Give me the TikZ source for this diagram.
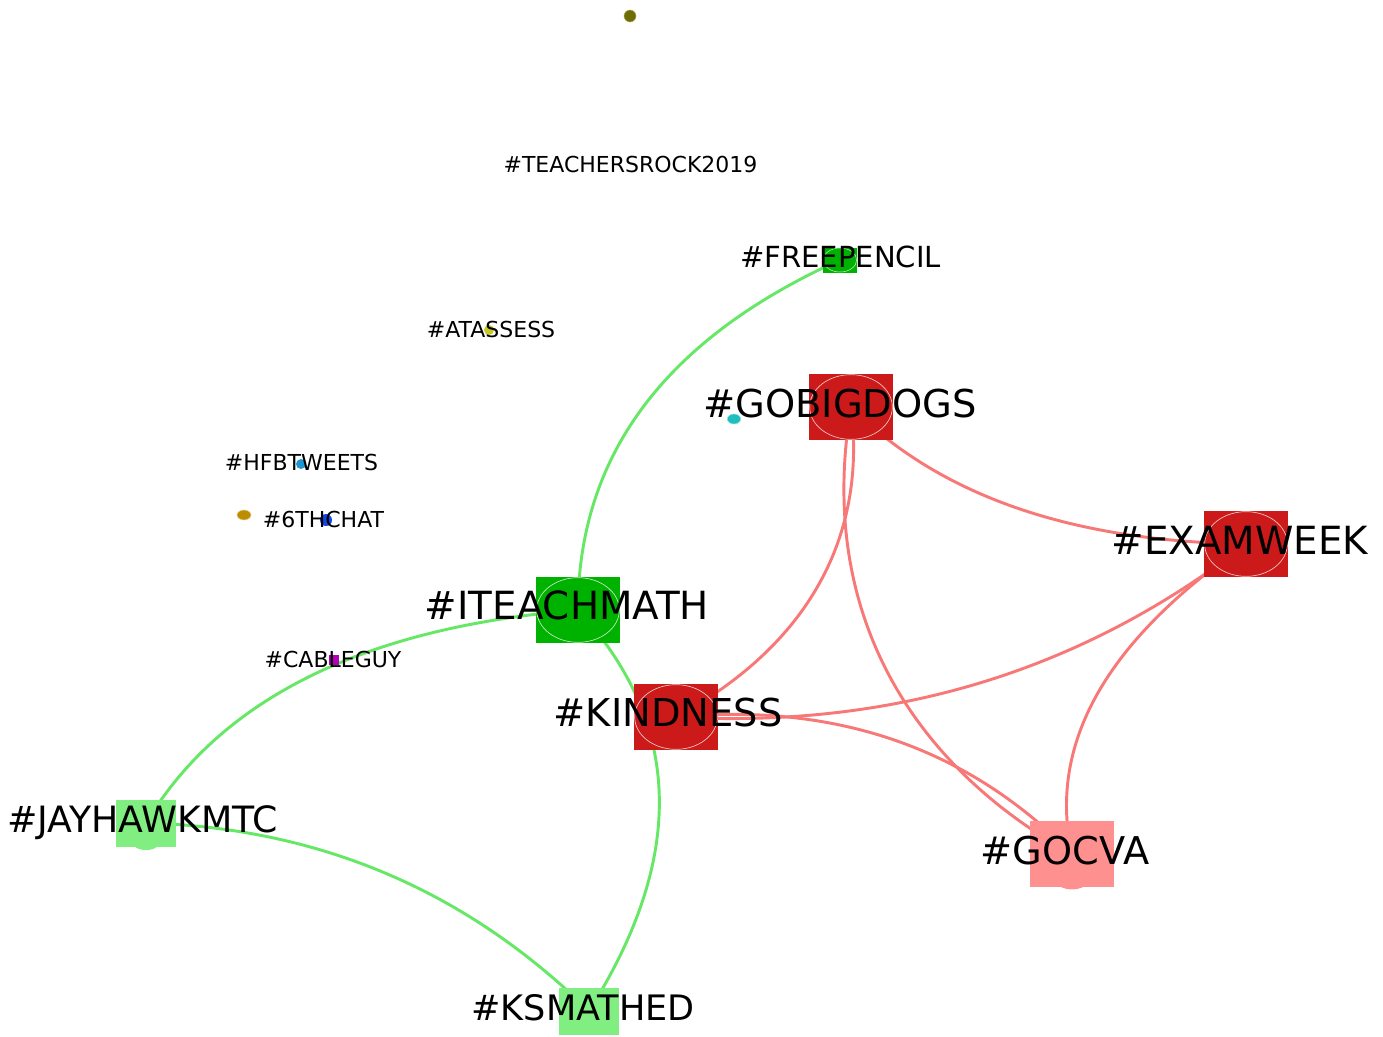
\documentclass[tikz,border=0pt]{standalone}
\usepackage{fontspec}
\setmainfont{DejaVu Sans}
\usetikzlibrary{shapes.geometric,backgrounds,calc}
\definecolor{dgreen}{RGB}{0,178,0}
\definecolor{lgreen}{RGB}{128,238,128}
\definecolor{dred}{RGB}{204,26,26}
\definecolor{pink}{RGB}{255,144,144}
\definecolor{gedgec}{RGB}{102,232,102}
\definecolor{redgec}{RGB}{248,120,120}
\definecolor{olivec}{RGB}{110,110,0}
\definecolor{yellc}{RGB}{200,200,40}
\definecolor{cyanc}{RGB}{32,190,190}
\definecolor{hfbc}{RGB}{30,150,210}
\definecolor{goldc}{RGB}{190,140,0}
\definecolor{bluec}{RGB}{20,70,230}
\definecolor{magc}{RGB}{180,0,180}
\begin{document}
\begin{tikzpicture}[x=0.75pt,y=-0.75pt,
  bigsq/.style={rectangle,inner sep=0,minimum width=63pt,minimum height=49.5pt,fill=#1},
  midsq/.style={rectangle,inner sep=0,minimum width=45pt,minimum height=35.25pt,fill=#1},
  smsq/.style={rectangle,inner sep=0,minimum width=25.5pt,minimum height=18.75pt,fill=#1},
  oval/.style={ellipse,inner sep=0,minimum width=62pt,minimum height=48.5pt,draw=white!75!#1,line width=0.5pt},
  smoval/.style={ellipse,inner sep=0,minimum width=25pt,minimum height=18pt,draw=white!75!#1,line width=0.4pt},
  dot/.style={circle,inner sep=0,minimum size=#1},
  lab/.style={inner sep=0,anchor=base,text=black},
  labS/.style={lab,font=\fontsize{16.5}{18}\selectfont},
  labF/.style={lab,font=\fontsize{21.8}{24}\selectfont},
  labM/.style={lab,font=\fontsize{#1}{28}\selectfont},
  labL/.style={lab,font=\fontsize{#1}{30}\selectfont},
  gedge/.style={draw=gedgec,line width=2.2pt},
  redge/.style={draw=redgec,line width=2.2pt}]
\useasboundingbox (0,0) rectangle (1383,1036);

% node shapes
\node[dot=9pt,fill=olivec,draw=olivec!60!white,line width=0.4pt] (top) at (630,16) {};
\node[dot=7.5pt,fill=yellc] (ata) at (489,330) {};
\node[ellipse,inner sep=0,minimum width=10pt,minimum height=7.5pt,fill=cyanc,draw=cyanc!50!white,line width=0.4pt] (cyan) at (734,419) {};
\node[dot=7.5pt,fill=hfbc] (hfb) at (301,464) {};
\node[ellipse,inner sep=0,minimum width=10.5pt,minimum height=7.5pt,fill=goldc,draw=goldc!40!white,line width=0.4pt] (gold) at (244,515) {};
\node[dot=9pt,fill=bluec] (six) at (326,520) {};
\node[rectangle,inner sep=0,minimum size=7.5pt,fill=magc] (cab) at (334,660) {};

\node[smsq=dgreen] (free) at (840,260) {};
\node[smoval=dgreen] (freeE) at (free) {};
\node[bigsq=dred] (gob) at (851,407) {};
\node[oval=dred] (gobE) at (gob) {};
\node[bigsq=dgreen] (itm) at (578,610) {};
\node[oval=dgreen] (itmE) at (itm) {};
\node[bigsq=dred] (kin) at (676,717) {};
\node[oval=dred] (kinE) at (kin) {};
\node[bigsq=dred] (exw) at (1246,544) {};
\node[oval=dred] (exwE) at (exw) {};
\node[ellipse,inner sep=0,minimum width=20pt,minimum height=8pt,fill=pink] (gocB) at (1072,884) {};
\node[bigsq=pink] (goc) at (1072,854) {};
\node[ellipse,inner sep=0,minimum width=16pt,minimum height=6pt,fill=lgreen] (jayB) at (146,846) {};
\node[midsq=lgreen] (jay) at (146,823) {};
\node[midsq=lgreen] (ksm) at (589,1011) {};

% control points (quadratic curves)
\coordinate (q1) at (578,378);
\coordinate (q2) at (258,636);
\coordinate (q3) at (735,780);
\coordinate (q4) at (405,830);
\coordinate (q5) at (984,540);
\coordinate (q8) at (1000,735);
\coordinate (q9) at (1035,690);
\coordinate (q10) at (916,695);

\begin{pgfonlayer}{background}
\draw[gedge] (free.center) .. controls ($(free.center)!0.6667!(q1)$) and ($(itm.center)!0.6667!(q1)$) .. (itm.center);
\draw[gedge] (itm.center) .. controls ($(itm.center)!0.6667!(q2)$) and ($(jay.center)!0.6667!(q2)$) .. (jay.center);
\draw[gedge] (itm.center) .. controls ($(itm.center)!0.6667!(q3)$) and ($(ksm.center)!0.6667!(q3)$) .. (ksm.center);
\draw[gedge] (jay.center) .. controls ($(jay.center)!0.6667!(q4)$) and ($(ksm.center)!0.6667!(q4)$) .. (ksm.center);
\draw[redge] (gob.center) .. controls ($(gob.center)!0.6667!(q5)$) and ($(exw.center)!0.6667!(q5)$) .. (exw.center);
\draw[redge] (gob.center) .. controls (868,545) and (800,650) .. (kin.center);
\draw[redge] (gob.center) .. controls (815,620) and (920,770) .. (goc.center);
\draw[redge] (exw.center) .. controls ($(exw.center)!0.6667!(q8)$) and ($(kin.center)!0.6667!(q8)$) .. (kin.center);
\draw[redge] (exw.center) .. controls ($(exw.center)!0.6667!(q9)$) and ($(goc.center)!0.6667!(q9)$) .. (goc.center);
\draw[redge] (kin.center) .. controls ($(kin.center)!0.6667!(q10)$) and ($(goc.center)!0.6667!(q10)$) .. (goc.center);
\end{pgfonlayer}

% labels
\node[labS] (lTea) at (630.5,172.9) {\#TEACHERSROCK2019};
\node[labS] (lAta) at (491,337) {\#ATASSESS};
\node[labS] (lHfb) at (301.5,470) {\#HFBTWEETS};
\node[labS] (lSix) at (323.5,527) {\#6THCHAT};
\node[labS] (lCab) at (333,667) {\#CABLEGUY};
\node[labF] (lFree) at (840.5,267.5) {\#FREEPENCIL};
\node[labM=27.2] (lJay) at (142.5,832.8) {\#JAYHAWKMTC};
\node[labM=26.3] (lKsm) at (583,1020.6) {\#KSMATHED};
\node[labL=28.8] (lGob) at (840,417.9) {\#GOBIGDOGS};
\node[labL=29.1] (lItm) at (567,619.9) {\#ITEACHMATH};
\node[labL=28.8] (lKin) at (668,726.9) {\#KINDNESS};
\node[labL=29.1] (lExw) at (1240,554.9) {\#EXAMWEEK};
\node[labL=28.7] (lGoc) at (1065,864.9) {\#GOCVA};
\end{tikzpicture}
\end{document}
